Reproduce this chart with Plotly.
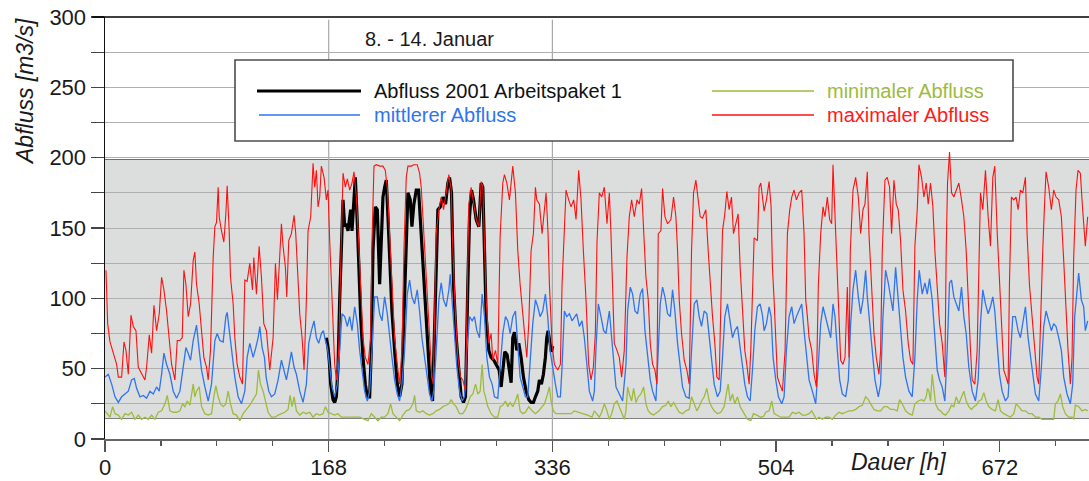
import plotly.graph_objects as go

# ---------------- data (hour, m3/s) ----------------
max_flow = [
    (0.75, 120), (2, 82), (3.75, 69), (6.25, 61), (8.75, 53), (10, 44), (12.5, 44), (14.25, 69), (15.75, 63),
    (17.5, 46), (19.5, 88), (21.25, 80), (23.25, 77), (25, 51), (27.5, 46), (30, 42), (31.25, 51), (33.25, 74),
    (35, 61), (36.75, 95), (38.75, 77), (40.75, 89), (42.5, 115), (44.25, 106), (46.25, 91), (48, 75), (50, 53),
    (52.5, 42), (54.25, 70), (56.25, 70), (58, 72), (59.25, 120), (60.75, 110), (62.5, 87), (64.25, 96),
    (66.25, 127), (67.5, 133), (68.75, 110), (70.75, 96), (72.5, 77), (74.25, 58), (76.25, 51), (77.5, 42),
    (79.25, 63), (81.25, 129), (82.5, 151), (83.75, 154), (85, 179), (85.75, 158), (87.5, 148), (89.25, 140),
    (90.75, 160), (91.75, 180), (93.25, 148), (94.25, 115), (96.25, 96), (97.5, 72), (99.25, 53), (101.25, 44),
    (103.25, 39), (105, 113), (106.75, 112), (108.75, 125), (110.75, 106), (111.75, 129), (113.75, 103),
    (115.75, 137), (117.5, 115), (119.25, 82), (121.25, 77), (122.5, 63), (123.75, 49), (126.25, 72), (128, 125),
    (129.5, 99), (131.25, 134), (132.5, 153), (133.75, 137), (135.5, 122), (136.5, 101), (138, 141), (140, 146),
    (142, 159), (143.25, 146), (145, 118), (146.25, 89), (148, 72), (149.5, 49), (151.25, 99), (152.5, 148),
    (154.5, 158), (156.25, 196), (157.5, 179), (158.75, 191), (160, 165), (161.25, 172), (162.5, 194),
    (164.5, 186), (166.25, 170), (167.5, 177), (168.75, 141), (170, 110), (171.25, 82), (172.5, 53), (173.75, 42),
    (175.5, 63), (177, 122), (178.75, 189), (180.5, 179), (182, 185), (183.75, 177), (185.5, 182), (187, 190),
    (188.75, 172), (190.5, 141), (192, 110), (193.75, 72), (195.5, 58), (197.5, 53), (199.5, 72), (200.5, 139),
    (202, 194), (203.75, 195), (206.25, 194), (208.75, 194), (210.5, 191), (212, 179), (213.75, 146),
    (215.5, 106), (217.5, 72), (219.5, 53), (221.25, 39), (223, 63), (224.5, 134), (226.25, 186), (227.5, 194),
    (230, 194), (232, 195), (234.5, 195), (236.25, 189), (237.5, 179), (238.75, 158), (240, 134), (242, 106),
    (243.75, 72), (245.5, 44), (246.5, 39), (247.5, 99), (248.75, 146), (250.75, 163), (252.5, 172),
    (254.25, 163), (256.25, 175), (258.25, 188), (260, 177), (261.25, 134), (263.25, 87), (265, 58), (267, 44),
    (268.75, 42), (270.75, 34), (271.75, 87), (273.25, 167), (275, 179), (276.75, 167), (278.75, 156),
    (280.75, 151), (282.5, 183), (283.75, 179), (285, 146), (286.25, 99), (288.25, 68), (290, 75), (291.25, 56),
    (293.25, 63), (295, 53), (296.75, 144), (298.75, 182), (300, 188), (301.75, 182), (303.75, 170), (305, 182),
    (306.25, 194), (308.25, 175), (310, 134), (311.75, 110), (313.75, 87), (315.75, 63), (316.75, 58),
    (318.25, 82), (320, 134), (321.75, 146), (323.25, 179), (324.25, 170), (326.25, 167), (328.25, 146),
    (330, 165), (331.25, 175), (332.75, 146), (333.75, 110), (335.75, 68), (337.5, 53), (340, 49), (342, 53),
    (343.25, 110), (345, 146), (346.25, 177), (348.25, 170), (350, 165), (352, 170), (353.75, 156), (355.75, 191),
    (357.5, 170), (359.25, 134), (361.25, 99), (363.25, 53), (365, 42), (366.75, 51), (368.25, 75), (369.5, 140),
    (371.25, 175), (373, 172), (375, 179), (377, 153), (378.75, 175), (380, 146), (381.25, 99), (382.5, 68),
    (384.5, 63), (386.25, 58), (388, 44), (390, 63), (392, 129), (393.75, 158), (395.5, 170), (397.5, 158),
    (399.5, 170), (401.25, 167), (403, 178), (405, 137), (406.25, 115), (408, 99), (409.5, 68), (411.25, 53),
    (413, 49), (414.5, 39), (415.5, 146), (417.5, 148), (418.75, 178), (420.5, 158), (422.5, 153), (425, 156),
    (427, 172), (428.75, 158), (430, 134), (431.25, 99), (433, 75), (435, 56), (437, 49), (438.75, 39),
    (440.5, 134), (442, 175), (443.75, 184), (445.5, 170), (447, 158), (448.75, 157), (451.25, 163), (453, 134),
    (454.5, 110), (456.25, 87), (458, 68), (459.5, 44), (461.25, 42), (462.5, 110), (463.75, 148), (465.5, 160),
    (467, 176), (468.75, 163), (470.5, 172), (472, 146), (473.75, 153), (475.5, 160), (477, 122), (478.75, 87),
    (480.5, 63), (482, 53), (483.75, 39), (485, 63), (486.25, 110), (487.5, 143), (490, 141), (491.25, 179),
    (492.5, 182), (493.25, 177), (495, 162), (496.75, 170), (498.75, 183), (500.25, 165), (501.25, 122),
    (502.5, 99), (503.75, 75), (505, 44), (506.75, 39), (508.75, 34), (510.75, 63), (512.5, 146), (514.25, 163),
    (515.75, 172), (517.5, 177), (519.25, 170), (521.25, 175), (523.25, 177), (525, 146), (526.25, 99),
    (527.5, 87), (528.75, 72), (530.75, 63), (532.5, 46), (534.25, 37), (535.75, 110), (537.5, 146),
    (539.25, 165), (540.75, 158), (542.5, 172), (544.25, 156), (545.75, 153), (546.75, 195), (548.25, 158),
    (550, 110), (551.25, 75), (552.5, 56), (554.25, 53), (555.75, 58), (557.5, 108), (558.75, 58), (559.75, 134),
    (561.75, 177), (563.75, 186), (565.75, 172), (567.5, 146), (569.25, 163), (570.75, 167), (572.5, 190),
    (573.75, 146), (575, 122), (576.25, 99), (577.5, 75), (579.25, 58), (581.25, 46), (582.5, 63), (583.75, 134),
    (585.75, 184), (587.5, 186), (589.25, 179), (590.75, 146), (592.5, 184), (594.25, 167), (595.75, 163),
    (597.5, 141), (599.25, 106), (601.25, 91), (603.25, 68), (605, 56), (606.75, 53), (608.25, 137), (610, 163),
    (611.25, 195), (613.25, 186), (615, 172), (616.75, 182), (618.25, 167), (620, 182), (621.75, 165),
    (623.25, 134), (625, 106), (626.75, 82), (628.75, 68), (630.75, 44), (631.75, 134), (632.75, 182),
    (634.25, 204), (635.75, 175), (637.5, 172), (639.25, 177), (641.25, 182), (643.25, 170), (645, 158),
    (646.75, 134), (648.25, 99), (650, 63), (651.25, 42), (653.25, 39), (655, 63), (656.25, 134), (657.5, 175),
    (659.25, 163), (661.25, 191), (663.25, 158), (665, 137), (666.75, 186), (668.25, 194), (670, 148),
    (671.75, 110), (673.25, 75), (675, 49), (676.75, 44), (678.25, 39), (679.25, 110), (680.75, 172),
    (682.5, 170), (684.25, 172), (685.75, 163), (687.5, 177), (689.25, 175), (691.25, 186), (692.5, 146),
    (694.25, 110), (696.25, 87), (698.25, 63), (700, 44), (701.25, 39), (702.5, 87), (704.25, 134), (705.75, 170),
    (706.75, 190), (708.75, 179), (710.75, 163), (712.5, 177), (714.25, 172), (716.25, 170), (718.25, 158),
    (720, 127), (721.75, 87), (723.25, 63), (725, 39), (726.25, 58), (727.5, 129), (729.25, 177), (730.75, 191),
    (732.5, 189), (734.25, 163), (736.25, 137), (738, 158),
]

mean_flow = [
    (0, 44), (2.5, 46), (5, 39), (7.5, 30), (10, 26), (12.5, 30), (15, 32), (17.5, 34), (20, 42), (22, 43),
    (23.75, 36), (26.25, 30), (28.75, 31), (31.25, 29), (33.75, 34), (36.25, 32), (38.75, 37), (40.75, 34),
    (42.5, 46), (44.25, 61), (46.25, 53), (48.75, 46), (51.25, 34), (53.75, 29), (56.25, 34), (58.75, 51),
    (60.75, 65), (62.5, 61), (64.25, 56), (66.25, 70), (68.75, 81), (70.75, 63), (72.5, 49), (75, 37), (77.5, 27),
    (80, 39), (82.5, 70), (84.25, 75), (86.25, 70), (88.75, 69), (90.75, 87), (91.75, 90), (93.5, 77),
    (95.75, 61), (97.5, 44), (100, 30), (102.5, 25), (105, 34), (106.75, 58), (108.75, 68), (111.25, 58),
    (113.25, 65), (115, 72), (116.25, 80), (118, 65), (119.75, 58), (121, 44), (123, 34), (125, 30), (127.5, 32),
    (130, 42), (132.5, 56), (134.5, 49), (136.25, 42), (138, 51), (140, 62), (142, 51), (143.75, 46),
    (146.25, 34), (148.75, 26), (151.25, 39), (153, 68), (155, 77), (157, 84), (158.75, 72), (160.5, 68),
    (162.5, 75), (164, 77), (165.5, 70), (167, 65), (168.75, 51), (170.5, 37), (172.5, 30), (174.5, 39),
    (176.25, 63), (178, 89), (180, 87), (182, 80), (183.75, 87), (185.5, 77), (187.5, 94), (189.5, 82),
    (191.25, 63), (193, 49), (195, 34), (197, 27), (198.75, 34), (200.5, 63), (202.5, 101), (204.5, 101),
    (206.25, 89), (208, 84), (210, 101), (212, 89), (213.75, 72), (215.5, 58), (217.5, 42), (219.5, 32),
    (221.25, 27), (223, 39), (225, 63), (227, 103), (228.75, 113), (230.5, 101), (232.5, 96), (234.5, 106),
    (236.25, 91), (238, 72), (240, 58), (242, 44), (243.75, 32), (245.5, 27), (247, 35), (248.75, 63),
    (250.75, 99), (252.5, 111), (254.25, 99), (256.25, 94), (258.25, 106), (259.25, 117), (260.75, 99),
    (262.5, 72), (264.25, 51), (266.25, 34), (268.25, 27), (270, 30), (271.75, 63), (273.75, 87), (275.75, 84),
    (277.5, 87), (279.25, 77), (281.25, 72), (283.25, 103), (285, 87), (286.75, 58), (288.75, 44), (290.75, 39),
    (292.5, 30), (295, 29), (296.75, 51), (298.75, 75), (300.75, 87), (302.5, 84), (304.25, 75), (306.25, 87),
    (308.25, 91), (310, 63), (311.75, 44), (313.75, 37), (315.75, 30), (317.5, 30), (319.25, 53), (321.25, 82),
    (323.25, 99), (325, 94), (326.75, 87), (328.75, 91), (330.75, 103), (332.5, 87), (334.25, 63), (336.25, 49),
    (338.25, 39), (340, 30), (342, 30), (343.25, 51), (345, 91), (346.75, 87), (348.75, 89), (350.75, 84),
    (352.5, 87), (354.25, 89), (356.25, 80), (358.25, 84), (360, 72), (361.75, 53), (363.75, 34), (366.25, 27),
    (367.5, 34), (368.75, 65), (370.5, 96), (372.5, 87), (374.5, 77), (376.25, 75), (378.75, 91), (380.5, 72),
    (382, 53), (383.75, 37), (386.25, 32), (388.75, 27), (391.25, 53), (392.5, 91), (394.5, 108), (396.25, 103),
    (398, 91), (400, 89), (402, 103), (403.75, 107), (405.5, 77), (407.5, 58), (409.5, 42), (411.25, 34),
    (413.75, 27), (415.5, 63), (417, 96), (418.75, 108), (420.5, 101), (422.5, 89), (424.5, 87), (426.25, 106),
    (428, 91), (430, 68), (432, 49), (433.75, 37), (436.25, 30), (438.75, 29), (440.5, 63), (442.5, 96),
    (444.5, 99), (446.25, 87), (448, 80), (450, 91), (452, 89), (453.75, 72), (455.5, 53), (457.5, 39), (460, 30),
    (462, 34), (463.75, 58), (465.5, 87), (467.5, 96), (469.5, 82), (471.25, 72), (473, 77), (475, 80), (477, 65),
    (478.75, 51), (480.5, 39), (482.5, 30), (484.5, 27), (486.25, 49), (488, 77), (490, 94), (492, 96),
    (493.75, 88), (495, 77), (496.75, 82), (498.75, 94), (500.25, 87), (501.75, 58), (503.75, 42), (505.75, 30),
    (508.25, 25), (510, 30), (511.75, 63), (513.75, 87), (515.75, 94), (517.5, 82), (519.25, 87), (521.25, 91),
    (523.25, 96), (525, 77), (526.75, 58), (528.75, 42), (531.25, 34), (533.75, 25), (535.75, 53), (537.5, 82),
    (539.25, 94), (541.25, 87), (543.25, 80), (545, 72), (546.75, 96), (548.25, 87), (550, 63), (551.75, 42),
    (553.75, 32), (556.25, 30), (558.25, 42), (560, 82), (561.75, 106), (563.75, 120), (565.75, 101),
    (567.5, 89), (569.25, 99), (571.25, 120), (572.5, 101), (574.25, 82), (576.25, 58), (578.25, 42),
    (580.75, 30), (582.5, 39), (584.25, 87), (586.25, 120), (588.25, 111), (590, 101), (591.75, 91),
    (593.75, 122), (595.75, 99), (597.5, 80), (599.25, 58), (601.25, 44), (603.75, 34), (606.25, 30),
    (608.25, 58), (610, 99), (611.5, 120), (613.75, 103), (615.75, 111), (617.5, 103), (619.25, 114),
    (621.25, 99), (623.25, 72), (625, 49), (626.75, 42), (628.75, 37), (630.75, 27), (632.5, 63), (634.25, 111),
    (635.75, 113), (637.5, 101), (639.25, 96), (641.25, 91), (643.25, 108), (645, 87), (646.75, 75),
    (648.75, 51), (651.25, 34), (653.75, 27), (655.75, 42), (657.5, 82), (659.25, 106), (661.25, 96),
    (663.25, 89), (665, 94), (666.75, 101), (668.25, 91), (670, 68), (671.75, 46), (673.75, 34), (676.25, 27),
    (678.25, 30), (680, 63), (681.75, 87), (683.75, 87), (685.75, 77), (687.5, 72), (689.25, 82), (691.25, 94),
    (693.25, 72), (695, 58), (696.75, 44), (698.75, 32), (701.25, 27), (703.25, 51), (705, 80), (706.75, 91),
    (708.75, 84), (710.75, 77), (712.5, 82), (714.25, 80), (716.25, 72), (718.25, 63), (720, 44), (722.5, 32),
    (725, 25), (726.75, 39), (728.25, 87), (730, 106), (731.25, 118), (733.25, 99), (735, 94), (736.25, 77),
    (738, 84),
]

min_flow = [
    (0, 20), (1.75, 18), (3.75, 15.5), (5.75, 23), (7.5, 18), (10, 17), (12.5, 14), (15, 18), (17.5, 17),
    (20, 19), (22.5, 14), (25, 17), (27.5, 14), (30, 15.5), (32.5, 14), (35, 17), (37.5, 14), (40, 19),
    (42.5, 20), (45, 25), (46.75, 31), (48.75, 20), (51.25, 19), (53.75, 19), (56.25, 20), (58.25, 25), (60, 23),
    (61.75, 27), (63.75, 24), (66.25, 39), (67.5, 30), (68.75, 34), (70.75, 37), (72.5, 23), (75, 18),
    (77.5, 17), (80, 18), (81.75, 30), (83.25, 38), (85, 30), (86.75, 25), (88.75, 23), (90.75, 25), (92.5, 34),
    (94.25, 25), (96.25, 18), (98.75, 17), (101.25, 13), (103.75, 18), (106.25, 21), (108.75, 24),
    (111.25, 28), (113.75, 32), (115.25, 49), (116.75, 39), (118.75, 34), (120.75, 25), (122.5, 19),
    (125, 15.5), (127.5, 15.5), (130, 17), (132.5, 18), (135, 19), (137.5, 21), (139, 31), (140.5, 23),
    (142, 30), (143.75, 20), (146.25, 17), (148.75, 19), (151.25, 18), (153.75, 19), (156.25, 15.5),
    (158.75, 18), (161.25, 17), (163.75, 18), (165.5, 23), (167.5, 19), (170, 18), (172.5, 17), (175, 18),
    (177.5, 15.5), (180, 15.5), (183.75, 15.5), (187.5, 15.5), (191.25, 15.5), (195, 14), (197.5, 13),
    (200, 18), (202.5, 15.5), (205, 13), (207.5, 15.5), (210, 15.5), (212.5, 18), (214.5, 25), (216.25, 18),
    (218.75, 15.5), (221.25, 13), (223.75, 17), (226.25, 20), (228.75, 21), (231.25, 25), (232.5, 31),
    (233.75, 20), (236.25, 19), (238.75, 20), (241.25, 18), (243.75, 17), (246.25, 18), (248.75, 20),
    (251.25, 21), (253.75, 23), (256.25, 24), (258.25, 25), (260, 28), (261.75, 25), (263.75, 23), (266.25, 18),
    (268.75, 18), (270.75, 21), (272.5, 25), (274.25, 30), (276.25, 32), (278.25, 39), (280, 32), (281.75, 34),
    (283.25, 53), (284.5, 34), (285.75, 30), (287.5, 23), (290, 18), (292.5, 15.5), (295, 15.5), (296.75, 23),
    (298.75, 24), (300.75, 27), (302.5, 23), (304.25, 26), (306.25, 23), (308.25, 27), (310, 32), (311.75, 20),
    (313.75, 18), (315.75, 19), (318.25, 23), (320.75, 20), (323.25, 18), (325.75, 20), (328.25, 23), (330, 25),
    (331.75, 30), (333.75, 37), (335, 27), (336.75, 20), (338.75, 18), (342.5, 18), (346.25, 18), (350, 18),
    (352.5, 20), (355, 19), (358.75, 18), (362.5, 17), (365.75, 15.5), (367.5, 20), (369.5, 18),
    (371.25, 15.5), (373, 19), (375, 25), (377, 20), (378.75, 14), (380.5, 18), (382.5, 25), (384.5, 27),
    (386.25, 23), (388, 18), (390, 14), (391.25, 20), (392.5, 37), (393.75, 32), (395.5, 27), (397, 36),
    (398.75, 26), (400.5, 30), (402.5, 32), (404.5, 37), (406.25, 25), (408, 20), (410, 18), (412, 17),
    (413.75, 18), (416.25, 20), (418.75, 23), (421.25, 24), (423, 27), (425, 23), (427, 26), (428.75, 23),
    (431.25, 19), (433.75, 18), (436.25, 20), (438.75, 21), (440.5, 30), (442.5, 25), (444.5, 20), (446.25, 23),
    (448, 27), (450, 30), (452, 36), (453.75, 27), (455.5, 23), (457.5, 20), (460, 18), (462.5, 19), (465, 23),
    (467, 34), (468, 39), (469.5, 27), (471.25, 32), (473, 25), (475, 30), (477, 23), (478.75, 20), (480.5, 18),
    (482.5, 14), (485, 13), (487, 18), (489.5, 17), (492.5, 15.5), (494.5, 16), (496.25, 19), (498.75, 20),
    (500.75, 27), (502.5, 18), (505, 17), (507.5, 15.5), (510, 15.5), (513.75, 15.5), (516.25, 19),
    (518.75, 18), (521.25, 19), (523.75, 17), (526.25, 17), (528.75, 18), (530.75, 20), (532.5, 17),
    (534.25, 14), (536.25, 15.5), (538.75, 14), (541.25, 15.5), (543.75, 15.5), (546.25, 14), (548.75, 17),
    (551.25, 19), (553.75, 18), (556.25, 19), (558.75, 20), (561.25, 20), (563.75, 21), (566.25, 23),
    (568.75, 24), (571.25, 30), (573.25, 28), (575, 25), (577.5, 21), (580, 20), (582.5, 20), (585, 23),
    (587.5, 23), (590, 21), (592.5, 21), (595, 20), (596.75, 28), (598.75, 25), (601.25, 20), (603.75, 18),
    (606.25, 17), (608.25, 25), (610.75, 27), (613.25, 28), (615, 27), (616.75, 30), (617.75, 36),
    (618.75, 34), (620, 27), (621.25, 46), (622.5, 34), (623.75, 25), (625.75, 21), (627.5, 20), (629.25, 18),
    (631.25, 17), (633.75, 20), (635.75, 24), (637.5, 23), (639.25, 30), (641.25, 25), (643.25, 30), (645, 34),
    (646.75, 27), (648.75, 23), (650.75, 21), (652.5, 23), (654.25, 24), (656.25, 27), (658.25, 28), (660, 33),
    (661.75, 27), (663.75, 23), (666.25, 21), (668.75, 20), (670.75, 28), (672.5, 20), (675, 18), (677.5, 17),
    (680, 15.5), (682.5, 18), (684.25, 25), (686.25, 23), (688.75, 20), (691.25, 20), (693.75, 18),
    (696.25, 18), (698.75, 15.5), (701.25, 15.5), (703.75, 14), (706.25, 14), (709.25, 14), (712.5, 14),
    (713.75, 25), (715.75, 27), (717.5, 32), (719.25, 23), (721.25, 18), (723.75, 15.5), (726.25, 15.5),
    (727.5, 14), (728.75, 24), (731.25, 23), (733.75, 20), (736.25, 21), (738, 20),
]

flow_2001 = [
    (166.25, 72), (167.5, 65), (168.5, 55), (169.5, 39), (171.25, 28), (172.5, 26), (173.75, 30), (175, 51),
    (176.25, 99), (177.5, 134), (178.75, 170), (180, 151), (181.25, 153), (182.5, 148), (184.5, 163),
    (185.5, 148), (187, 172), (188, 186), (189.5, 153), (190.5, 122), (192, 87), (193.75, 58), (195.5, 39),
    (197, 30), (198.75, 30), (200, 63), (201.25, 134), (203, 165), (204.5, 163), (206.25, 110), (207.5, 146),
    (208.75, 172), (210, 179), (211.25, 184), (212.5, 158), (213.75, 129), (215.5, 91), (217.5, 63),
    (219.5, 39), (221.25, 30), (223, 39), (224.5, 87), (226.25, 146), (227.5, 175), (229.25, 170),
    (230.5, 151), (232, 167), (233.75, 177), (235.5, 177), (237, 153), (238.75, 122), (240.5, 91), (242.5, 58),
    (244.5, 34), (246, 27), (246.75, 51), (248.25, 110), (250, 163), (251.75, 165), (253.75, 172),
    (255.75, 167), (257.5, 182), (258.75, 186), (260.25, 175), (261.75, 110), (263.75, 72), (265.75, 49),
    (267.5, 30), (269.25, 26), (270.75, 30), (272.5, 110), (273.75, 158), (275.25, 177), (276.75, 170),
    (278.75, 156), (280.75, 151), (282.5, 182), (283.75, 179), (285, 134), (286.25, 87), (288.25, 63),
    (290, 58), (292, 56), (294, 53), (296, 49), (297.5, 37), (298.75, 49), (300.25, 62), (302, 60),
    (303.5, 50), (305, 40), (306.25, 72), (307.5, 76), (309.25, 63), (310.75, 68), (312.5, 58), (314.25, 44),
    (316.25, 34), (318.25, 28), (320, 26), (321.75, 26), (323.25, 30), (325, 34), (326.25, 42), (327.75, 39),
    (329.25, 46), (330.75, 58), (331.75, 72), (332.75, 77), (334.25, 68), (335.25, 62), (336.25, 66),
]

x_ticks = [0, 168, 336, 504, 672]
y_ticks = [0, 50, 100, 150, 200, 250, 300]
week_label = "8. - 14. Januar"
series_names = ["Abfluss 2001 Arbeitspaket 1", "mittlerer Abfluss", "minimaler Abfluss", "maximaler Abfluss"]

# ---------------- styling ----------------
BLACK = "#000000"
BLUE = "#2f74f0"
GREEN = "#9dbb3c"
RED = "#ff1010"
FONT = "Liberation Sans, Arial, sans-serif"
TXT = "#1a1a1a"

W, H = 1089, 481
# plot area in window pixels: x 105..1089, y 17..439
L, R, T, B = 105, 0, 17, H - 439
PW, PH = W - L - R, H - T - B


def px(xp):
    """window pixel x -> paper coordinate"""
    return (xp - L) / PW


def py(yp):
    """window pixel y -> paper coordinate"""
    return (H - B - yp) / PH


def split(points):
    return [p[0] for p in points], [p[1] for p in points]


fig = go.Figure()
for pts, name, color, width in [
    (flow_2001, series_names[0], BLACK, 3.2),
    (min_flow, series_names[2], GREEN, 1.3),
    (mean_flow, series_names[1], BLUE, 1.3),
    (max_flow, series_names[3], RED, 1.1),
]:
    xs, ys = split(pts)
    fig.add_trace(go.Scatter(x=xs, y=ys, mode="lines", name=name, showlegend=False,
                             line=dict(color=color, width=width), hoverinfo="skip"))

shapes = []
# grey band
shapes.append(dict(type="rect", xref="x", yref="y", x0=0, x1=739, y0=15, y1=198.5,
                   fillcolor="#dcdddd", line=dict(width=0), layer="below"))
shapes.append(dict(type="line", xref="paper", yref="y", x0=0, x1=1, y0=198.5, y1=198.5,
                   line=dict(color="#4a4a4a", width=1.5), layer="below"))
shapes.append(dict(type="line", xref="paper", yref="y", x0=0, x1=1, y0=15, y1=15,
                   line=dict(color="#000000", width=1.3), layer="below"))
# week marker lines
for xv in (168, 336):
    shapes.append(dict(type="line", xref="x", yref="y", x0=xv, x1=xv, y0=0, y1=298,
                       line=dict(color="#a8a8a8", width=1.2), layer="below"))
# top frame line
shapes.append(dict(type="line", xref="paper", yref="paper", x0=-0.013, x1=1, y0=1, y1=1,
                   line=dict(color="#000000", width=1.5)))
# legend box
shapes.append(dict(type="rect", xref="paper", yref="paper", x0=px(235), x1=px(1013), y0=py(141), y1=py(60),
                   fillcolor="white", line=dict(color="#4d4d4d", width=1.6), layer="above"))
legend_items = [
    (series_names[0], BLACK, 3.2, 257, 361, 91, 372, "#111111"),
    (series_names[1], BLUE, 1.3, 259, 360, 115, 372, BLUE),
    (series_names[2], GREEN, 1.3, 712, 814, 91, 825, GREEN),
    (series_names[3], RED, 1.3, 712, 814, 115, 825, "#ff1a1a"),
]
annotations = []
for name, color, width, x0, x1, yy, tx, tcol in legend_items:
    shapes.append(dict(type="line", xref="paper", yref="paper", x0=px(x0), x1=px(x1), y0=py(yy), y1=py(yy),
                       line=dict(color=color, width=width), layer="above"))
    annotations.append(dict(text=name, xref="paper", yref="paper", x=px(tx), y=py(yy), xanchor="left",
                            yanchor="middle", showarrow=False, font=dict(family=FONT, size=20, color=tcol)))

annotations.append(dict(text=week_label, xref="paper", yref="paper", x=px(363), y=py(38.5), xanchor="left",
                        yanchor="middle", showarrow=False, font=dict(family=FONT, size=20, color=TXT)))
annotations.append(dict(text="<i>Abfluss [m3/s]</i>", xref="paper", yref="paper", x=px(25), y=py(92),
                        xanchor="center", yanchor="middle", textangle=-90, showarrow=False,
                        font=dict(family=FONT, size=23, color=TXT)))
annotations.append(dict(text="<i>Dauer [h]</i>", xref="paper", yref="paper", x=px(898), y=py(462),
                        xanchor="center", yanchor="middle", showarrow=False,
                        font=dict(family=FONT, size=23, color=TXT)))

fig.update_layout(
    width=W, height=H, autosize=False,
    margin=dict(l=L, r=R, t=T, b=B, pad=0),
    paper_bgcolor="white", plot_bgcolor="white",
    font=dict(family=FONT, color=TXT),
    showlegend=False,
    shapes=shapes, annotations=annotations,
    xaxis=dict(range=[0, 739], tickvals=x_ticks, ticktext=[str(v) for v in x_ticks], automargin=False,
               ticks="outside", ticklen=11, tickwidth=1.3, tickcolor="#555555",
               ticklabelstandoff=-3, ticklabeloverflow="allow",
               showgrid=False, zeroline=False, showline=True, linecolor="#666666", linewidth=1.6,
               tickfont=dict(family=FONT, size=22, color=TXT),
               minor=dict(ticks="outside", ticklen=5, tickwidth=1.2, tickcolor="#555555",
                          dtick=42, tick0=0, showgrid=False)),
    yaxis=dict(range=[0, 300], tickvals=y_ticks, ticktext=[str(v) for v in y_ticks], automargin=False,
               ticks="outside", ticklen=13, tickwidth=1.3, tickcolor="#444444",
               ticklabeloverflow="allow",
               showgrid=True, gridcolor="#b0b0b0", gridwidth=1,
               zeroline=False, showline=True, linecolor="#111111", linewidth=1.5,
               tickfont=dict(family=FONT, size=22, color=TXT),
               minor=dict(ticks="outside", ticklen=13, tickwidth=1.3, tickcolor="#444444",
                          dtick=25, tick0=0, showgrid=True, gridcolor="#b0b0b0", gridwidth=1)),
)

# remove the default 8 px page margin so the figure fills the window exactly; hide the mode bar
fig.write_html("out.html", config={"displayModeBar": False, "staticPlot": True},
               post_script="document.body.style.margin='0';document.body.style.overflow='hidden';")
